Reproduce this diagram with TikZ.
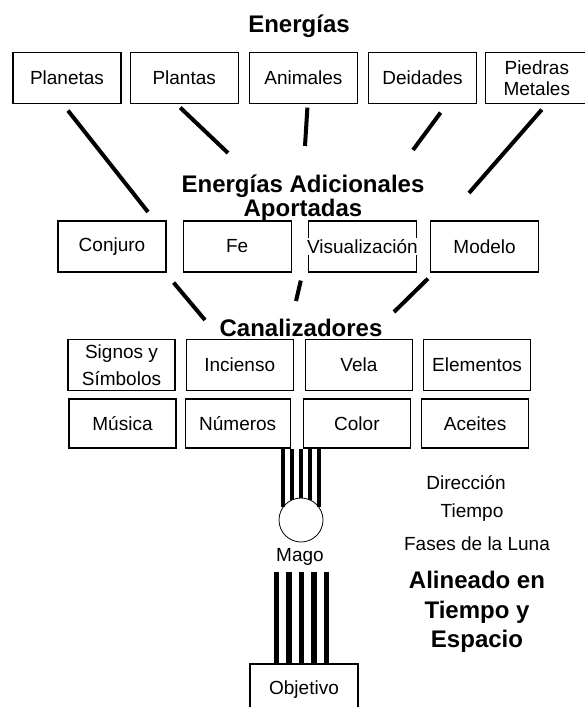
\documentclass[tikz,border=0pt]{standalone}
\usepackage{fontspec}
\setmainfont{Liberation Sans}
\usetikzlibrary{positioning}

\begin{document}
\begin{tikzpicture}[x=1pt,y=-1pt,
  caja/.style={draw,line width=1.2pt,minimum width=108pt,minimum height=51pt,inner sep=1pt,align=center,font=\fontsize{19}{21}\selectfont},
  texto/.style={inner sep=1pt,align=center,font=\fontsize{19}{21}\selectfont},
  titulo/.style={inner sep=1pt,align=center,font=\fontsize{24}{24}\selectfont\bfseries},
  enlace/.style={line width=4pt},
  barra/.style={line width=4.5pt}]
\useasboundingbox (0,0) rectangle (584,707);
\node[titulo] (energias) at (299,26) {Energías};
\node[caja] (planetas) at (67,78) {Planetas};
\node[caja] (plantas) [right=8pt of planetas] {Plantas};
\node[caja] (animales) [right=10pt of plantas] {Animales};
\node[caja] (deidades) [right=10pt of animales] {Deidades};
\node[caja,minimum width=102pt] (piedras) [right=8pt of deidades] {Piedras\\Metales};
\node[titulo] (adicionales) at (303,198) {Energías Adicionales\\Aportadas};
\node[caja] (conjuro) at (112,246.5) {Conjuro};
\node[caja] (fe) [right=16pt of conjuro] {Fe};
\node[caja] (visual) [right=16pt of fe] {};
\node[texto,fill=white] (visualtxt) at (visual) {Visualización};
\node[caja] (modelo) [right=13pt of visual] {Modelo};
\node[titulo] (canal) at (301,328) {Canalizadores};
\node[caja,minimum width=107pt,font=\fontsize{19}{27}\selectfont] (signos) at (121.5,365) {Signos y\\Símbolos};
\node[caja,minimum width=107pt] (incienso) [right=10pt of signos] {Incienso};
\node[caja,minimum width=107pt] (vela) [right=11pt of incienso] {Vela};
\node[caja,minimum width=107pt] (elementos) [right=10pt of vela] {Elementos};
\node[caja,minimum width=107pt,minimum height=49pt] (musica) at (122.5,423.5) {Música};
\node[caja,minimum width=105pt,minimum height=49pt] (numeros) [right=8pt of musica] {Números};
\node[caja,minimum width=107pt,minimum height=49pt] (color) [right=12pt of numeros] {Color};
\node[caja,minimum width=107pt,minimum height=49pt] (aceites) [right=10pt of color] {Aceites};
\node[circle,draw,line width=0.8pt,minimum size=44pt,inner sep=0pt,outer sep=0pt] (mago) at (301,520) {};
\node[texto] (magotxt) at (300,557) {Mago};
\coordinate (haz) at (301.5,572);
\node[caja] (objetivo) at (304,689.5) {Objetivo};
\node[texto] (direccion) at (466,483) {Dirección};
\node[texto] (tiempo) at (472,513) {Tiempo};
\node[texto] (fases) at (477,544) {Fases de la Luna};
\node[titulo,font=\fontsize{24}{29.5}\selectfont\bfseries] (alineado) at (477,612) {Alineado en\\Tiempo y\\Espacio};
\coordinate (a1) at (148,212);
\coordinate (a2) at (228,153);
\coordinate (a3) at (305,146);
\coordinate (a4) at (413,150);
\coordinate (a5) at (469,193);
\coordinate (b1) at (205,320);
\coordinate (b2) at (296,301);
\coordinate (b3) at (394,312);
\draw[enlace] ([shift={(1,6.5)}]planetas.south) -- (a1);
\draw[enlace] ([shift={(-4,3.5)}]plantas.south) -- (a2);
\draw[enlace] ([shift={(4,3.5)}]animales.south) -- (a3);
\draw[enlace] ([shift={(18,8.5)}]deidades.south) -- (a4);
\draw[enlace] ([shift={(5,5.5)}]piedras.south) -- (a5);
\draw[enlace] ([shift={(7,10)}]conjuro.south east) -- (b1);
\draw[enlace] ([shift={(9,8)}]fe.south east) -- (b2);
\draw[enlace] ([shift={(-2,6)}]modelo.south west) -- (b3);
\foreach \a in {35,66,90,114,145}
  \draw[barra] (mago.\a |- color.south) -- (mago.\a);
\foreach \d in {-25,-12.5,0,12.5,25}
  \draw[barra,line width=5.5pt] ([xshift=\d pt]haz) -- ([xshift=\d pt]haz |- objetivo.north);
\end{tikzpicture}
\end{document}
